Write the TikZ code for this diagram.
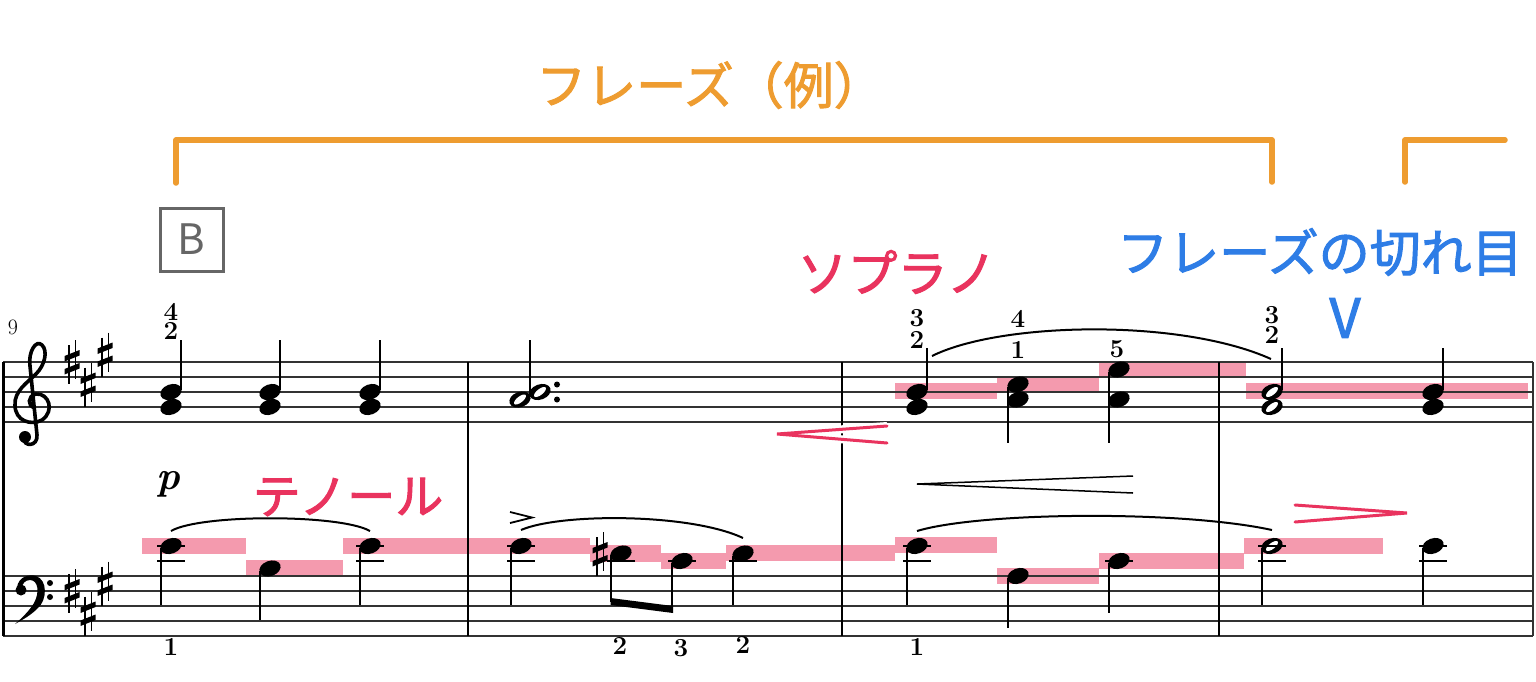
\documentclass[tikz,border=0pt]{standalone}
\usepackage{fontspec}
\newfontfamily\jpfont{Noto Sans CJK JP}
\newfontfamily\jpmedium[FakeBold=2]{Noto Sans CJK JP}
\usetikzlibrary{calc}

\definecolor{phraseorange}{HTML}{EE9C30}
\definecolor{voicered}{HTML}{E9335E}
\definecolor{voicehl}{HTML}{F49AAE}
\definecolor{breakblue}{HTML}{2E7DE6}
\definecolor{markgray}{HTML}{666666}
\definecolor{inkgray}{HTML}{333333}

\tikzset{
  staffline/.style={line width=1.5pt, draw=inkgray},
  barline/.style={line width=2.6pt},
  stem/.style={line width=1.6pt},
  ledger/.style={line width=2pt},
  slur/.style={line width=2pt},
  hl/.style={fill=voicehl},
  fing/.style={font=\bfseries\fontsize{26}{26}\selectfont, inner sep=0pt},
  phrase/.style={draw=phraseorange, line width=5.5pt, line cap=round, line join=round},
  voicelabel/.style={text=voicered, inner sep=0pt, font=\jpmedium\fontsize{50}{50}\selectfont},
  redpin/.style={draw=voicered, line width=3pt, line cap=round,
    preaction={draw=white, line width=8pt}},
  qhead/.pic={\fill [rotate=20] (0,0) ellipse (11 and 7.6);},
  hhead/.pic={\fill [rotate=20] (0,0) ellipse (11 and 7.6);
    \fill [white, rotate=38] (0,0) ellipse (7.2 and 3);},
  sharpsign/.pic={
    \draw [line width=1.8pt] (-3.4,-17) -- (-3.4,22);
    \draw [line width=1.8pt] (3.4,-22) -- (3.4,17);
    \fill (-7.5,-6) -- (7.5,-12) -- (7.5,-6.5) -- (-7.5,-0.5) -- cycle;
    \fill (-7.5,7) -- (7.5,1) -- (7.5,6.5) -- (-7.5,12.5) -- cycle;
  },
}

\begin{document}
\begin{tikzpicture}[x=1pt, y=-1pt]
\useasboundingbox (0,0) rectangle (1536,681);

\newcommand{\staffgap}{15}
\newcommand{\trebletop}{362}
\newcommand{\basstop}{576}
\newcommand{\staffleft}{3}
\newcommand{\staffright}{1533}
\newcommand{\systembot}{636}

% voice highlights (under the staff)
\foreach \xa/\ya/\xb/\yb in {895/383/997/399, 997/377/1099/392, 1099/363/1246/378, 1246/383/1528/399,
  142/538/246/554, 246/560/343/576, 343/538/590/554, 590/545/661/562, 661/553/726/569,
  726/545/895/561, 895/537/997/553, 997/568/1099/584, 1099/553/1244/569, 1244/538/1383/554}
{
\fill [hl] (\xa,\ya) rectangle (\xb,\yb);
}

\foreach \i in {0,...,4}
{
\draw [staffline] (\staffleft, \trebletop+\i*\staffgap) -- (\staffright, \trebletop+\i*\staffgap);
\draw [staffline] (\staffleft, \basstop+\i*\staffgap) -- (\staffright, \basstop+\i*\staffgap);
}

\draw [line width=3pt] (\staffleft, \trebletop) -- (\staffleft, \systembot);
\foreach \x in {468,842,1219}
{
\draw [barline] (\x, \trebletop) -- (\x, \systembot);
}
\draw [staffline] (\staffright, \trebletop) -- (\staffright, \systembot);

% clefs
\draw [line width=3.6pt, line cap=round] (34,408) .. controls (28,406) and (27,396) .. (36,394)
  .. controls (49,393) and (55,411) .. (42,420)
  .. controls (31,426) and (15,421) .. (15,405)
  .. controls (14,391) and (28,382) .. (36,374)
  .. controls (45,365) and (48,351) .. (42,345)
  .. controls (36,339) and (28,352) .. (30,366)
  -- (37,435) .. controls (38,447) and (23,447) .. (24,438);
\fill (25,437) circle (6);

\fill (17,588) .. controls (18,576) and (30,574) .. (36,576)
  .. controls (48,580) and (47,600) .. (38,608)
  .. controls (30,616) and (22,620) .. (15,624)
  .. controls (22,618) and (30,610) .. (34,603)
  .. controls (40,592) and (38,580) .. (30,580)
  .. controls (25,580) and (22,584) .. (22,588) -- cycle;
\fill (21,590) circle (5.5);
\fill (50,583) circle (3);
\fill (50,597) circle (3);

% key signatures
\foreach \x/\y in {72/362, 88/384.5, 105/354.5, 72/591, 88/613.5, 105/583.5}
{
\pic at (\x,\y) {sharpsign};
}

% treble, stems up
\foreach \x in {171,270,370,917,1433}
{
\pic at (\x,392) {qhead};
\pic at (\x,407) {qhead};
}
\foreach \x in {171,270,370}
{
\draw [stem] (\x+10,340) -- (\x+10,390);
}
\draw [stem] (927,348) -- (927,390);
\draw [stem] (1443,348) -- (1443,390);
\pic at (1272,392) {hhead};
\pic at (1272,407) {hhead};
\draw [stem] (1282,348) -- (1282,390);

\pic at (520,399.5) {hhead};
\pic at (540,392) {hhead};
\draw [stem] (530,340) -- (530,397);
\fill (557,384.5) circle (3);
\fill (557,399.5) circle (3);

% treble, stems down
\foreach \x/\ya/\yb in {1018/384.5/399.5, 1119/369.5/399.5}
{
\pic at (\x,\ya) {qhead};
\pic at (\x,\yb) {qhead};
\draw [stem] (\x-10,\ya+2) -- (\x-10,443);
}

% bass notes: x / y / stem end
\foreach \x/\y/\e in {171/546/605, 270/568.5/620, 370/546/605, 521/546/605, 743/553.5/605,
  917/546/605, 1018/576/628, 1119/561/613, 1433/546/605}
{
\pic at (\x,\y) {qhead};
\draw [stem] (\x-10,\y+2) -- (\x-10,\e);
}
\pic at (1272,546) {hhead};
\draw [stem] (1262,548) -- (1262,605);

\pic at (621,553.5) {qhead};
\pic at (682,561) {qhead};
\pic at (600,554) {sharpsign};
\draw [stem] (611,555) -- (611,602);
\draw [stem] (672,563) -- (672,610);
\fill (610.5,598) -- (673,606) -- (673,613) -- (610.5,605) -- cycle;

% ledger lines
\foreach \x in {171,370,521,917,1272,1433}
{
\draw [ledger] (\x-14,546) -- (\x+14,546);
\draw [ledger] (\x-14,561) -- (\x+14,561);
}
\foreach \x in {621,682,743,1119}
{
\draw [ledger] (\x-14,561) -- (\x+14,561);
}

\draw [line width=1.8pt] (510,512) -- (532,517.5) -- (510,523);

% slurs
\draw [slur] (932,356) .. controls (1000,322) and (1180,318) .. (1271,359);
\draw [slur] (171,531) .. controls (200,514) and (340,514) .. (370,531);
\draw [slur] (521,530) .. controls (560,513) and (690,513) .. (743,538);
\draw [slur] (917,531) .. controls (980,512) and (1180,510) .. (1272,530);

% hairpins
\draw [line width=1.5pt] (1133,476) -- (917,484) -- (1133,493);
\draw [redpin] (887,426) -- (777,434) -- (887,443);
\draw [redpin] (1295,505) -- (1407,513) -- (1295,522);

% texts
\node [inner sep=0pt, font=\fontsize{22}{22}\selectfont] (barnum) at (13,327) {9};
\node [inner sep=0pt, font=\bfseries\itshape\fontsize{40}{40}\selectfont] (dynp) at (168,484) {p};
\foreach \x/\y/\d [count=\k] in {171/312/4, 171/331/2, 917/318/3, 917/340/2, 1018/319/4, 1018/350/1,
  1117/349/5, 1272/315/3, 1272/335/2, 171/647/1, 620/646/2, 681/648/3, 743/645/2, 917/647/1}
{
\node [fing] (fing\k) at (\x,\y) {\d};
}

\draw [phrase] (176,183) -- (176,140) -- (1272,140) -- (1272,182);
\draw [phrase] (1405,182) -- (1405,140) -- (1505,140);
\node [text=phraseorange, inner sep=0pt, font=\jpmedium\fontsize{50}{50}\selectfont] (phrasetitle) at (710,85) {フレーズ（例）};

\node [draw=markgray, line width=3pt, minimum width=63pt, minimum height=63pt, inner sep=0pt,
  text=markgray, font=\jpfont\fontsize{42}{42}\selectfont] (rehB) at (191.5,239.5) {B};

\node [voicelabel] (soprano) at (897,272) {ソプラノ};
\node [voicelabel, font=\jpmedium\fontsize{48}{48}\selectfont] (tenor) at (348,497) {テノール};
\node [text=breakblue, inner sep=0pt, font=\jpmedium\fontsize{51}{51}\selectfont] (breaktext) at (1320,252) {フレーズの切れ目};
\node [text=breakblue, inner sep=0pt, font=\jpmedium\fontsize{54}{54}\selectfont] (breakmark) at (1345,318) {V};

\end{tikzpicture}
\end{document}
